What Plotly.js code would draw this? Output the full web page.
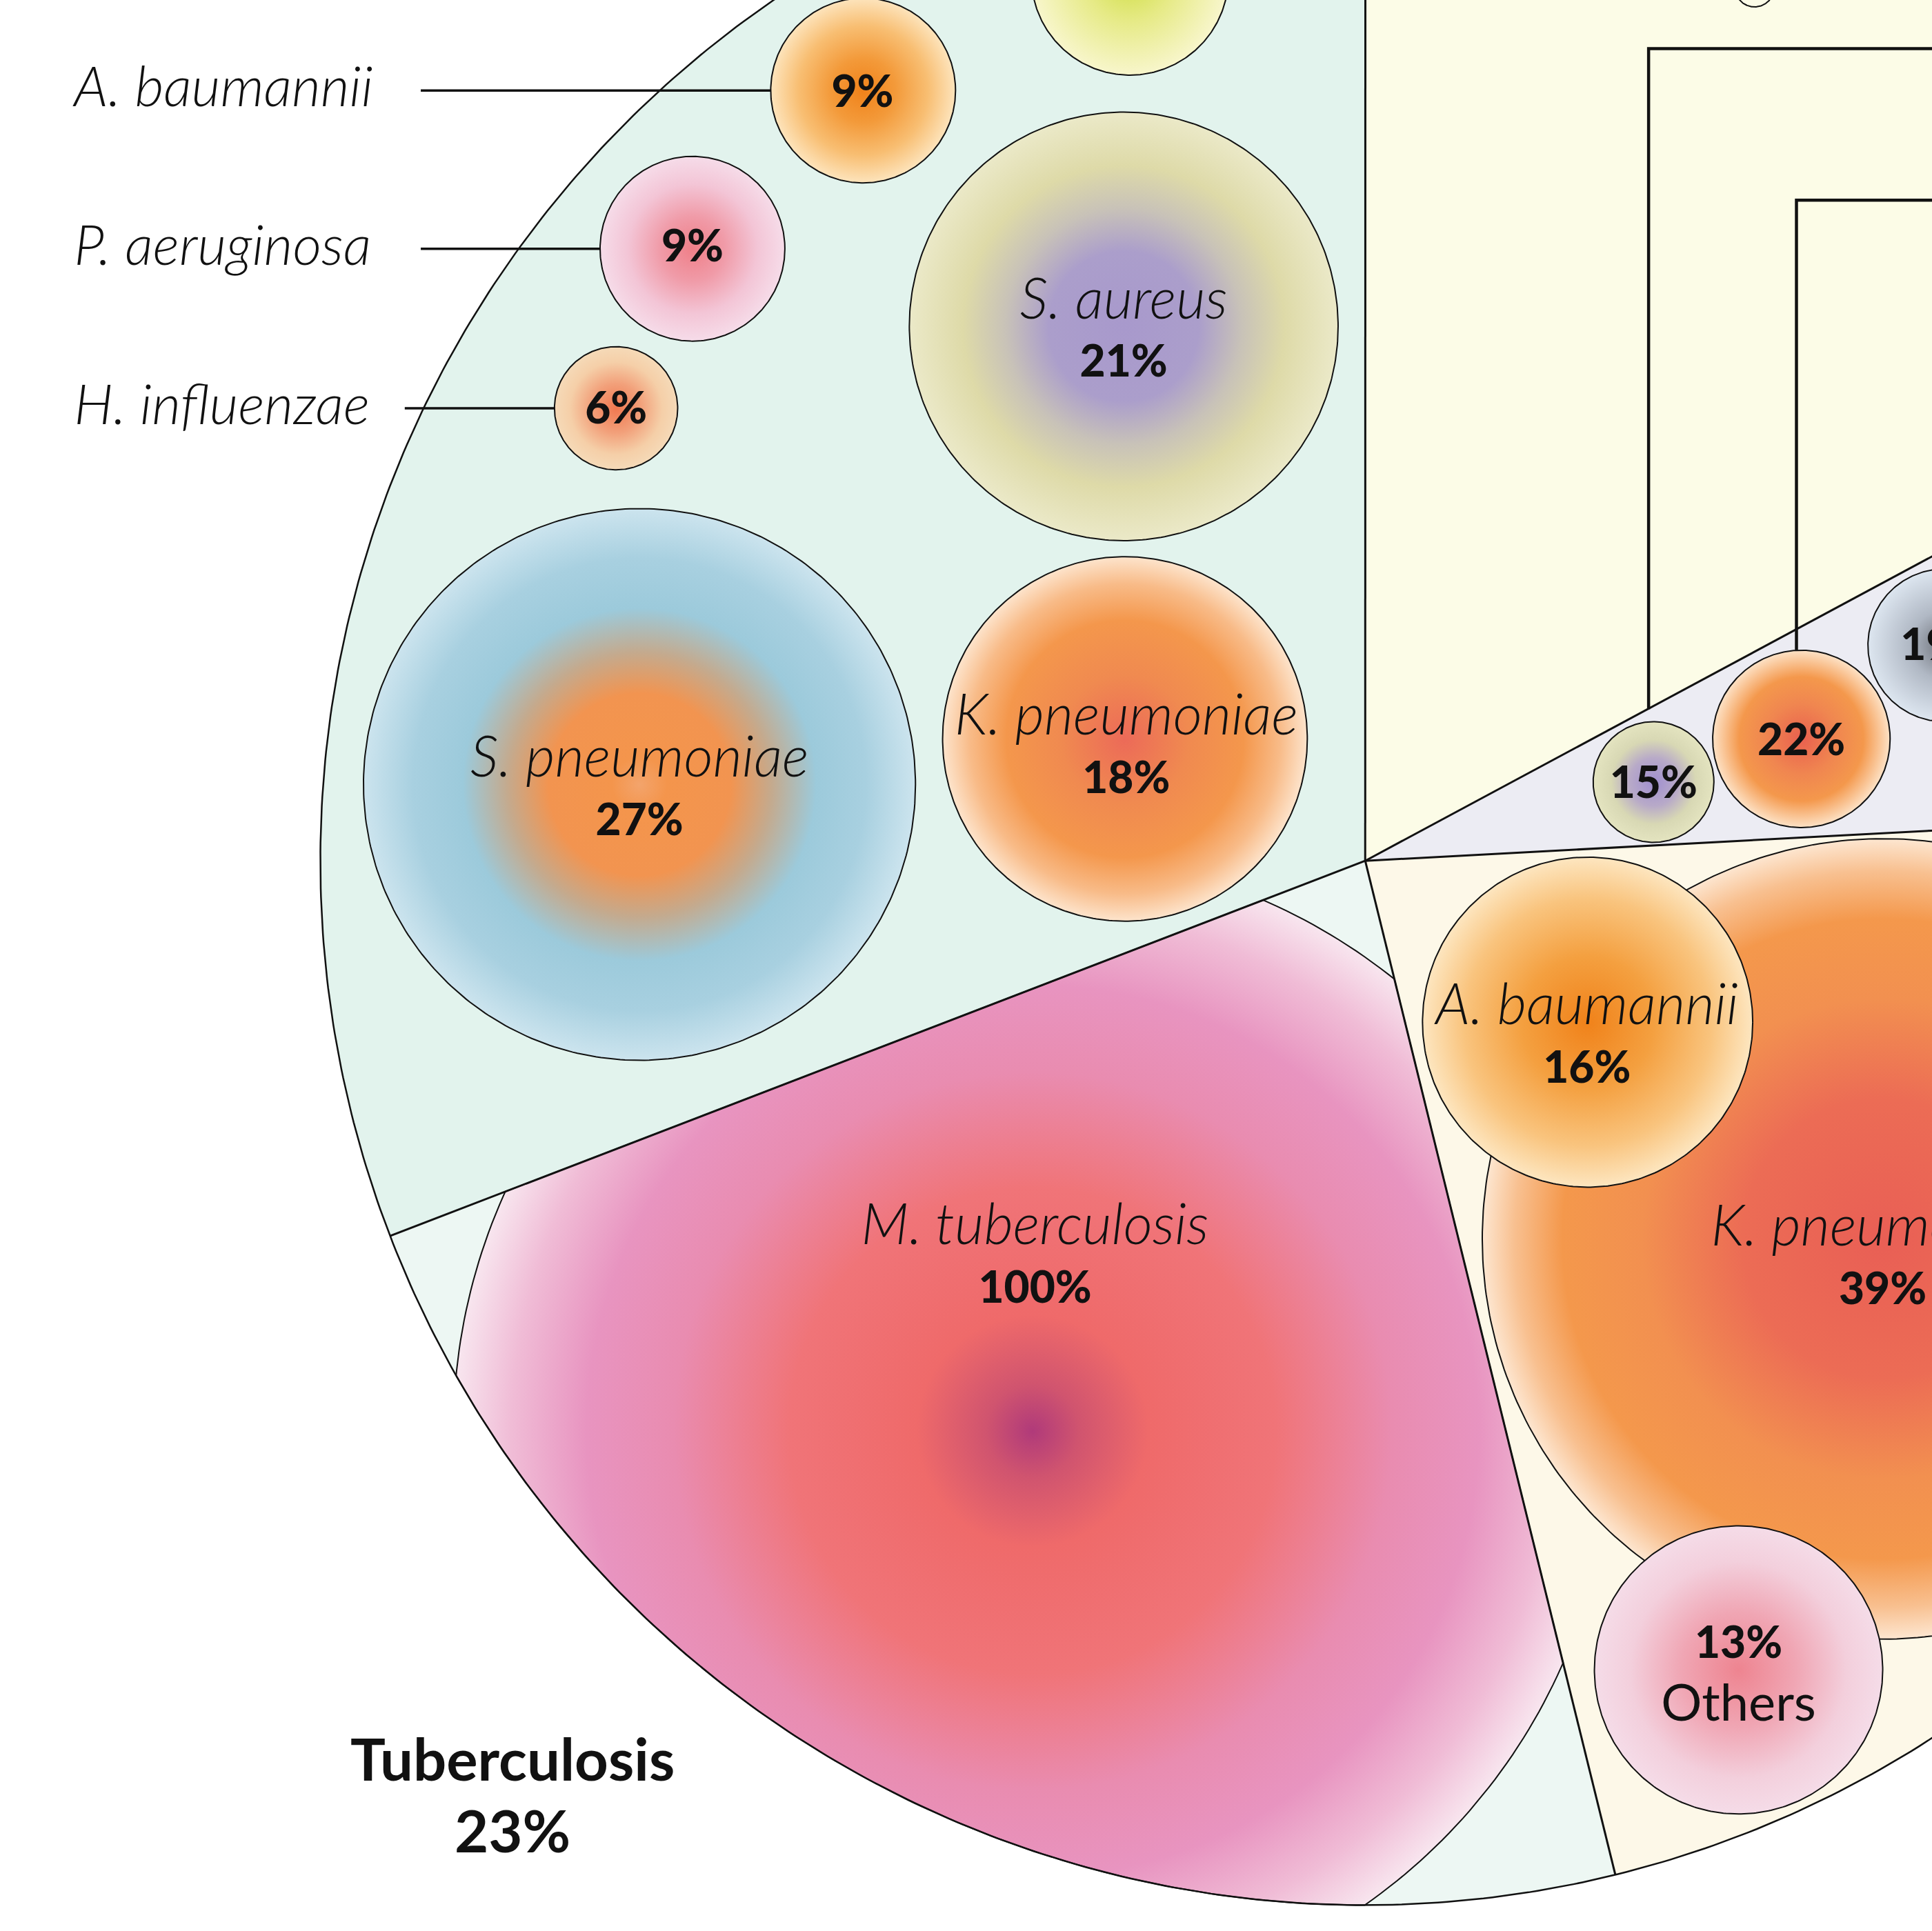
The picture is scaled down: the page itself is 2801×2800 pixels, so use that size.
<!DOCTYPE html>
<html><head><meta charset="utf-8">
<script src="https://cdn.plot.ly/plotly-3.0.1.min.js"></script>
<style>html,body{margin:0;padding:0;background:#fff}</style>
</head><body><div id="chart" style="width:2801px;height:2800px"></div>
<script>
// ---------------- data ----------------
const sectorNames  = ["Tuberculosis", "Group B", "Group C", "Group D", "Group E"];
const sectorShares = [23, 22, 7, 17.15, 30.85];

const bubbleSpecies = [null, "A. baumannii", "P. aeruginosa", "H. influenzae", "S. aureus", "S. pneumoniae", "K. pneumoniae",
                       "M. tuberculosis", "K. pneumoniae", "A. baumannii", "Others", null, null, null, null];
const bubblePct     = [null, 9, 9, 6, 21, 27, 18, 100, 39, 16, 13, 15, 22, 19, null];
const bubbleSector  = [4, 4, 4, 4, 4, 4, 4, 0, 1, 1, 1, 2, 2, 2, 3];
const labelKind     = ["none", "outside", "outside", "outside", "inside", "inside", "inside", "inside", "inside", "inside", "others", "pct", "pct", "pct", "none"];

// ---------------- layout (reference frame 1568 units) ----------------
const W = 2801, H = 2800, VB = 1568;
const CX = 1108, CY = 699, RR = 848, START = 201.05;
const sectorColors = ["#edf7f3", "#fdf8e8", "#ececf3", "#fcfce7", "#e2f3ed"];

const bubbleX = [917, 700.5, 562, 500, 912, 519, 913, 838, 1528, 1288.5, 1411, 1342, 1462, 1578, 1424];
const bubbleY = [-19, 73.5, 202, 331.5, 265, 637, 600, 1162, 1006, 830, 1356, 635, 600, 524, -10.4];
const bubbleR = [80, 75, 75, 50, 174, 224, 148, 470, 325, 134, 117, 49, 72, 62, 16];
const labelX  = [null, 700, 562, 500, 912, 519, 914, 840, 1528, 1288, 1411, 1342, 1462, 1578, null];
const labelY  = [null, 78, 203, 335, 272, 644, 610, 1024, 1025, 845, 1362, 639, 604, 527, null];
const leaderStartX = [null, 341.5, 341.5, 328.5];

const bubbleScales = [
  [[0,'#cfde45'],[0.45,'#e6ea86'],[1,'#f8f6cc']],
  [[0,'#f0821a'],[0.35,'#f39a3a'],[0.7,'#f8be72'],[1,'#fde4bc']],
  [[0,'#ef7f88'],[0.35,'#f09ba8'],[0.7,'#f3c5d6'],[1,'#f6dce9']],
  [[0,'#f07850'],[0.4,'#f2a07a'],[0.75,'#f5cfa8'],[1,'#f5dab8']],
  [[0,'#a899cc'],[0.35,'#ab9ecb'],[0.55,'#c8c2b8'],[0.75,'#dedaa8'],[1,'#ebe9c8']],
  [[0,'#f3a46c'],[0.1,'#f4954c'],[0.33,'#f29450'],[0.48,'#c4aa8e'],[0.64,'#9ccadb'],[0.82,'#a8d0e0'],[1,'#cce4ee']],
  [[0,'#ec6a58'],[0.35,'#f08a50'],[0.65,'#f4974c'],[0.85,'#f8bb88'],[1,'#fde4cc']],
  [[0,'#b03a7a'],[0.08,'#d0546f'],[0.2,'#ef6a6a'],[0.42,'#f07478'],[0.62,'#e98cb0'],[0.77,'#e894c0'],[0.9,'#f0bcd6'],[1,'#f8e6ef']],
  [[0,'#e95f55'],[0.35,'#ec6c55'],[0.6,'#f29050'],[0.8,'#f4984c'],[0.92,'#f8c090'],[1,'#fde6d0']],
  [[0,'#f0821a'],[0.4,'#f4a040'],[0.75,'#f9c47e'],[1,'#fde6c0']],
  [[0,'#ee8490'],[0.4,'#f0a6b4'],[0.75,'#f3cfdc'],[1,'#f5dce8']],
  [[0,'#a08fd0'],[0.4,'#b8aac8'],[0.7,'#d8d8b4'],[1,'#e4e4c0']],
  [[0,'#e9604f'],[0.4,'#f08650'],[0.7,'#f4984c'],[1,'#fde2c6']],
  [[0,'#6c7078'],[0.45,'#b0b8c4'],[1,'#dde6f0']],
  null
];

const FONT = "Lato, 'Open Sans', sans-serif";

// ---------------- geometry helpers ----------------
const rad = d => d * Math.PI / 180;
function pt(a, r) { return [CX + r * Math.cos(rad(a)), CY - r * Math.sin(rad(a))]; }
function circlePoly(cx, cy, r, n) {
  const p = [];
  for (let i = 0; i < n; i++) { const t = 2 * Math.PI * i / n; p.push([cx + r * Math.cos(t), cy + r * Math.sin(t)]); }
  return p;
}
const bounds = [START];
sectorShares.forEach(s => bounds.push(bounds[bounds.length - 1] + s * 3.6));
function wedgePoly(i) {
  const a1 = bounds[i], a2 = bounds[i + 1], p = [[CX, CY]];
  const n = 240;
  for (let k = 0; k <= n; k++) p.push(pt(a1 + (a2 - a1) * k / n, RR));
  return p;
}
function signedArea(p) { let s = 0; for (let i = 0; i < p.length; i++) { const a = p[i], b = p[(i + 1) % p.length]; s += a[0] * b[1] - b[0] * a[1]; } return s / 2; }
function clipPoly(subject, clip) {
  const sg = signedArea(clip) > 0 ? 1 : -1;
  let out = subject;
  for (let i = 0; i < clip.length; i++) {
    const A = clip[i], B = clip[(i + 1) % clip.length];
    const ins = P => sg * ((B[0] - A[0]) * (P[1] - A[1]) - (B[1] - A[1]) * (P[0] - A[0])) >= -1e-9;
    const inter = (S, E) => {
      const dx = E[0] - S[0], dy = E[1] - S[1], ex = B[0] - A[0], ey = B[1] - A[1];
      const den = dx * ey - dy * ex;
      const t = ((A[0] - S[0]) * ey - (A[1] - S[1]) * ex) / den;
      return [S[0] + t * dx, S[1] + t * dy];
    };
    const inp = out; out = [];
    if (!inp.length) break;
    for (let j = 0; j < inp.length; j++) {
      const E = inp[j], S = inp[(j + inp.length - 1) % inp.length];
      if (ins(E)) { if (!ins(S)) out.push(inter(S, E)); out.push(E); }
      else if (ins(S)) out.push(inter(S, E));
    }
  }
  return out;
}

// ---------------- traces ----------------
const traces = [];
sectorShares.forEach((s, i) => {
  const p = wedgePoly(i);
  traces.push({ type: 'scatter', mode: 'lines', x: p.map(q => q[0]), y: p.map(q => q[1]), fill: 'toself',
    fillcolor: sectorColors[i], line: { width: 0 }, hoverinfo: 'skip', name: sectorNames[i] });
});
bubbleR.forEach((r, i) => {
  const cx = bubbleX[i], cy = bubbleY[i];
  const full = circlePoly(cx, cy, r, 360);
  const poly = clipPoly(full, wedgePoly(bubbleSector[i]));
  const clipped = poly.length !== full.length;
  const fp = poly.slice();
  if (clipped) {
    const last = fp[fp.length - 1];
    [[cx - r, cy], [cx + r, cy], [cx, cy - r], [cx, cy + r]].forEach(e => { fp.push(e); fp.push(last); });
  }
  const cs = bubbleScales[i];
  const fillT = { type: 'scatter', mode: 'lines', x: fp.map(q => q[0]), y: fp.map(q => q[1]), fill: 'toself',
    fillcolor: cs ? cs[cs.length - 1][1] : sectorColors[bubbleSector[i]], line: { width: 0 }, hoverinfo: 'skip' };
  if (cs) fillT.fillgradient = { type: 'radial', colorscale: cs };
  traces.push(fillT);
  const op = poly.concat([poly[0]]);
  traces.push({ type: 'scatter', mode: 'lines', x: op.map(q => q[0]), y: op.map(q => q[1]),
    line: { color: '#111', width: 2 }, hoverinfo: 'skip' });
});
bounds.slice(0, sectorShares.length).forEach(a => {
  const e = pt(a, RR);
  traces.push({ type: 'scatter', mode: 'lines', x: [CX, e[0]], y: [CY, e[1]], line: { color: '#111', width: 3 }, hoverinfo: 'skip' });
});
const oc = circlePoly(CX, CY, RR, 720); oc.push(oc[0]);
traces.push({ type: 'scatter', mode: 'lines', x: oc.map(q => q[0]), y: oc.map(q => q[1]), line: { color: '#111', width: 2.5 }, hoverinfo: 'skip' });
leaderStartX.forEach((x0, i) => {
  if (x0 == null) return;
  traces.push({ type: 'scatter', mode: 'lines', x: [x0, bubbleX[i] - bubbleR[i]], y: [bubbleY[i], bubbleY[i]],
    line: { color: '#111', width: 3.5 }, hoverinfo: 'skip' });
});
traces.push({ type: 'scatter', mode: 'lines', x: [1338, 1338, 1600], y: [576, 39.5, 39.5], line: { color: '#111', width: 4.5 }, hoverinfo: 'skip' });
traces.push({ type: 'scatter', mode: 'lines', x: [1458, 1458, 1600], y: [bubbleY[12] - bubbleR[12], 162.6, 162.6], line: { color: '#111', width: 4.5 }, hoverinfo: 'skip' });

// ---------------- texts ----------------
const nameT = { x: [], y: [], text: [] }, pctT = { x: [], y: [], text: [] }, regT = { x: [], y: [], text: [] }, leftT = { x: [], y: [], text: [] };
labelKind.forEach((k, i) => {
  const pct = bubblePct[i] != null ? bubblePct[i] + '%' : '';
  if (k === 'inside') {
    nameT.x.push(labelX[i]); nameT.y.push(labelY[i] - 25); nameT.text.push(bubbleSpecies[i]);
    pctT.x.push(labelX[i]); pctT.y.push(labelY[i] + 25); pctT.text.push(pct);
  } else if (k === 'others') {
    pctT.x.push(labelX[i]); pctT.y.push(labelY[i] - 25); pctT.text.push(pct);
    regT.x.push(labelX[i]); regT.y.push(labelY[i] + 25); regT.text.push(bubbleSpecies[i]);
  } else if (k === 'outside' || k === 'pct') {
    pctT.x.push(labelX[i]); pctT.y.push(labelY[i]); pctT.text.push(pct);
    if (k === 'outside') { leftT.x.push(60); leftT.y.push(bubbleY[i] + 1.5); leftT.text.push(bubbleSpecies[i]); }
  }
});
const txt = (o, font, pos) => ({ type: 'scatter', mode: 'text', x: o.x, y: o.y, text: o.text, textposition: pos || 'middle center',
  textfont: font, hoverinfo: 'skip' });
traces.push(txt(nameT, { family: FONT, size: 82, color: '#111', style: 'italic', weight: 300 }));
traces.push(txt(leftT, { family: FONT, size: 81, color: '#111', style: 'italic', weight: 300 }, 'middle right'));
traces.push(txt(pctT, { family: FONT, size: 64, color: '#111', weight: 900 }));
traces.push(txt(regT, { family: FONT, size: 74, color: '#111', weight: 400 }));
traces.push(txt({ x: [416, 416], y: [1434, 1492], text: [sectorNames[0], sectorShares[0] + '%'] },
  { family: FONT, size: 85, color: '#111', weight: 700 }));

const layout = {
  width: W, height: H, margin: { l: 0, r: 0, t: 0, b: 0, pad: 0 },
  paper_bgcolor: '#ffffff', plot_bgcolor: '#ffffff', showlegend: false, hovermode: false,
  xaxis: { range: [0, VB], visible: false, fixedrange: true },
  yaxis: { range: [VB, 0], visible: false, fixedrange: true }
};
Plotly.newPlot('chart', traces, layout, { staticPlot: true, displayModeBar: false });
</script></body></html>
